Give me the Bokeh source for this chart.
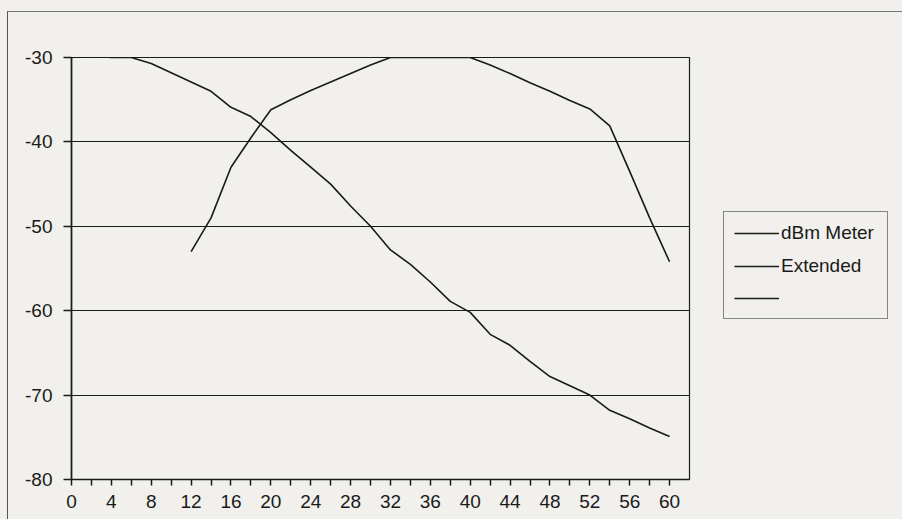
from bokeh.plotting import figure
from bokeh.models import Legend, LegendItem, FixedTicker, Range1d
from bokeh.embed import file_html
from bokeh.resources import INLINE

# Data
meter_x = [0, 2, 4, 6, 8, 10, 12, 14, 16, 18, 20, 22, 24, 26, 28, 30, 32, 34, 36, 38, 40,
           42, 44, 46, 48, 50, 52, 54, 56, 58, 60]
meter_y = [-30, -29.8, -30, -30, -30.7, -31.8, -32.9, -34, -35.9, -37, -38.9, -41, -43, -45,
           -47.6, -50, -52.8, -54.5, -56.6, -58.9, -60.2, -62.8, -64.1, -66, -67.8, -68.9,
           -70, -71.8, -72.8, -73.9, -74.9]

ext_x = [12, 14, 16, 18, 20, 22, 24, 26, 28, 30, 32, 34, 36, 38, 40, 42, 44, 46, 48, 50,
         52, 54, 56, 58, 60]
ext_y = [-53, -49, -43, -39.5, -36.2, -35, -33.9, -32.9, -31.9, -30.9, -30, -30, -30, -30,
         -30, -30.9, -31.9, -33, -34, -35.1, -36.1, -38.1, -43.5, -49, -54.2]

# third (unnamed) legend series has no visible values
third_x = [0]
third_y = [float("nan")]

series_labels = ["dBm Meter", "Extended", " "]
y_ticks = [-80, -70, -60, -50, -40, -30]
y_tick_labels = ["-80", "-70", "-60", "-50", "-40", "-30"]
x_ticks = [0, 4, 8, 12, 16, 20, 24, 28, 32, 36, 40, 44, 48, 52, 56, 60]
x_minor = [2, 6, 10, 14, 18, 22, 26, 30, 34, 38, 42, 46, 50, 54, 58]

paper = "#f1f0ec"
ink = "#1a1a1a"
font = "Liberation Sans"

p = figure(frame_width=618, frame_height=422, output_backend="svg", toolbar_location=None,
           x_range=Range1d(0, 62), y_range=Range1d(-80, -30),
           min_border_left=71, min_border_right=200, min_border_top=57, min_border_bottom=40)
p.background_fill_color = paper
p.border_fill_alpha = 0
p.styles = {
    "background": ("linear-gradient(#555, #555) 7px 11px / 1px 100% no-repeat, "
                   "linear-gradient(#777, #777) 7px 11px / 100% 1px no-repeat, " + paper)
}
p.outline_line_color = ink
p.outline_line_width = 1.2

p.xgrid.visible = False
p.ygrid.ticker = FixedTicker(ticks=y_ticks)
p.ygrid.grid_line_color = ink
p.ygrid.grid_line_width = 1.2

p.yaxis.ticker = FixedTicker(ticks=y_ticks)
p.yaxis.major_label_overrides = {t: s for t, s in zip(y_ticks, y_tick_labels)}
p.xaxis.ticker = FixedTicker(ticks=x_ticks, minor_ticks=x_minor)
for ax in (p.xaxis, p.yaxis):
    ax.axis_line_color = ink
    ax.axis_line_width = 1.6
    ax.major_tick_line_color = ink
    ax.minor_tick_line_color = ink
    ax.major_tick_line_width = 1.5
    ax.minor_tick_line_width = 1.5
    ax.major_tick_in = 0
    ax.minor_tick_in = 0
    ax.major_label_text_font = font
    ax.major_label_text_font_size = "19px"
    ax.major_label_text_color = ink
p.xaxis.major_tick_out = 6
p.xaxis.minor_tick_out = 6
p.xaxis.major_label_standoff = 9
p.yaxis.major_tick_out = 8
p.yaxis.minor_tick_out = 0
p.yaxis.major_label_standoff = 11

r1 = p.line(meter_x, meter_y, line_color=ink, line_width=1.6)
r2 = p.line(ext_x, ext_y, line_color=ink, line_width=1.6)
r3 = p.line(third_x, third_y, line_color=ink, line_width=1.6)

legend = Legend(items=[LegendItem(label=series_labels[0], renderers=[r1]),
                       LegendItem(label=series_labels[1], renderers=[r2]),
                       LegendItem(label=series_labels[2], renderers=[r3])],
                location=(34, 160))
legend.border_line_color = ink
legend.border_line_width = 1.2
legend.background_fill_color = paper
legend.background_fill_alpha = 1
legend.label_text_font = font
legend.label_text_font_size = "19px"
legend.label_text_color = ink
legend.glyph_width = 45
legend.glyph_height = 20
legend.label_standoff = 2
legend.label_width = 96
legend.padding = 10
legend.spacing = 11
legend.margin = 0
p.add_layout(legend, "right")

open("out.html", "w").write(file_html(p, INLINE))
